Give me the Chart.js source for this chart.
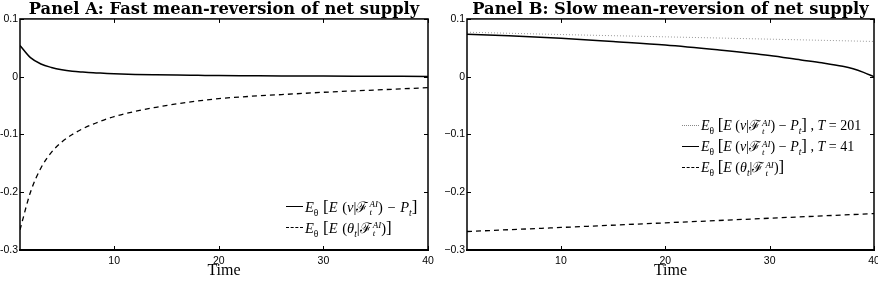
<!DOCTYPE html>
<html><head><meta charset="utf-8">
<script src="https://cdn.jsdelivr.net/npm/chart.js@4/dist/chart.umd.min.js"></script>
<style>
html,body{margin:0;padding:0;background:#fff;}
#wrap{position:relative;width:878px;height:282px;overflow:hidden;background:#fff;}
.pane{position:absolute;top:0;height:282px;}
#pa{left:0;width:440px;}
#pb{left:440px;width:438px;}
.legend{position:absolute;font-family:"Liberation Serif","DejaVu Serif",serif;font-size:14.5px;word-spacing:1px;color:#000;}
.row{display:flex;align-items:center;white-space:nowrap;height:21px;}
.sw{width:17px;height:0;margin-right:2px;}
.solid{border-top:1.5px solid #000;}
.dash{border-top:1.3px dashed #000;}
.dot{border-top:1px dotted #888;}
.ss{display:inline-flex;flex-direction:column;font-size:9px;line-height:8px;vertical-align:middle;font-style:italic;margin-left:1px;}
sub{font-size:9.5px;}
.br{font-size:17px;}
</style>
</head><body>
<div id="wrap">
  <div class="pane" id="pa"><canvas id="ca" width="440" height="282"></canvas></div>
  <div class="pane" id="pb"><canvas id="cb" width="438" height="282"></canvas></div>
  <div class="legend" style="left:286px;top:196px;">
    <div class="row"><span class="sw solid"></span><span><i>E</i><sub>θ</sub> <span class="br">[</span><i>E</i> (<i>v</i>|ℱ<span class="ss"><span>AI</span><span>t</span></span>) − <i>P</i><sub><i>t</i></sub><span class="br">]</span></span></div>
    <div class="row"><span class="sw dash"></span><span><i>E</i><sub>θ</sub> <span class="br">[</span><i>E</i> (<i>θ<sub>t</sub></i>|ℱ<span class="ss"><span>AI</span><span>t</span></span>)<span class="br">]</span></span></div>
  </div>
  <div class="legend" style="left:682px;top:115px;font-size:14px;word-spacing:0;">
    <div class="row"><span class="sw dot"></span><span><i>E</i><sub>θ</sub> <span class="br">[</span><i>E</i> (<i>v</i>|ℱ<span class="ss"><span>AI</span><span>t</span></span>) − <i>P</i><sub><i>t</i></sub><span class="br">]</span> , <i>T</i> = 201</span></div>
    <div class="row"><span class="sw solid"></span><span><i>E</i><sub>θ</sub> <span class="br">[</span><i>E</i> (<i>v</i>|ℱ<span class="ss"><span>AI</span><span>t</span></span>) − <i>P</i><sub><i>t</i></sub><span class="br">]</span> , <i>T</i> = 41</span></div>
    <div class="row"><span class="sw dash"></span><span><i>E</i><sub>θ</sub> <span class="br">[</span><i>E</i> (<i>θ<sub>t</sub></i>|ℱ<span class="ss"><span>AI</span><span>t</span></span>)<span class="br">]</span></span></div>
  </div>
</div>
<script>
// ---- Data ----
const titleA = 'Panel A: Fast mean-reversion of net supply';
const titleB = 'Panel B: Slow mean-reversion of net supply';
const xTitle = 'Time';
const xTicks = [10, 20, 30, 40];
const yTicks = [0.1, 0, -0.1, -0.2, -0.3];

// Panel A
const timeA = [1,2,3,4,5,6,7,8,9,10,12,14,16,18,20,23,26,30,35,40];
const aPriceGap = [0.054,0.033,0.022,0.016,0.012,0.0095,0.008,0.0068,0.006,0.0052,0.004,0.0033,0.0028,0.0024,0.002,0.0017,0.0014,0.0011,0.0008,0.0005];
const aTheta = [-0.265,-0.2,-0.158,-0.131,-0.113,-0.1,-0.09,-0.082,-0.075,-0.069,-0.06,-0.053,-0.047,-0.042,-0.038,-0.034,-0.031,-0.027,-0.023,-0.019];

// Panel B
const timeB201 = [1,10,20,30,40];
const bPriceGap201 = [0.077,0.073,0.069,0.065,0.061];
const timeB41 = [1,5,10,15,20,25,30,33,35,37,38,39,40];
const bPriceGap41 = [0.0735,0.071,0.0667,0.061,0.055,0.0465,0.0367,0.029,0.024,0.018,0.0137,0.0075,0.0];
const timeBTheta = [1,10,20,30,40];
const bTheta = [-0.268,-0.261,-0.253,-0.245,-0.237];

const pts = (xs, ys) => xs.map((x, i) => ({x, y: ys[i]}));

const framePlugin = {
  id: 'frame',
  afterDraw(chart) {
    const {ctx, chartArea: a, scales} = chart;
    ctx.save();
    ctx.strokeStyle = '#000';
    ctx.lineWidth = 1;
    const tl = 4;
    scales.x.ticks.forEach(t => {
      const px = Math.round(scales.x.getPixelForValue(t.value)) + 0.5;
      ctx.beginPath();
      ctx.moveTo(px, a.bottom); ctx.lineTo(px, a.bottom - tl);
      ctx.moveTo(px, a.top); ctx.lineTo(px, a.top + tl);
      ctx.stroke();
    });
    scales.y.ticks.forEach(t => {
      const py = Math.round(scales.y.getPixelForValue(t.value)) + 0.5;
      ctx.beginPath();
      ctx.moveTo(a.left, py); ctx.lineTo(a.left + tl, py);
      ctx.moveTo(a.right, py); ctx.lineTo(a.right - tl, py);
      ctx.stroke();
    });
    ctx.lineWidth = 1.5;
    ctx.strokeRect(a.left, a.top, a.right - a.left, a.bottom - a.top);
    ctx.lineWidth = 2.2;
    ctx.beginPath(); ctx.moveTo(a.left - 1, a.bottom); ctx.lineTo(a.right + 1, a.bottom); ctx.stroke();
    ctx.restore();
  }
};

function makeChart(id, title, datasets, yWidth, padRight, unicodeMinus) {
  return new Chart(document.getElementById(id), {
    type: 'line',
    data: {datasets},
    options: {
      responsive: false,
      animation: false,
      events: [],
      layout: {padding: {left: 0, right: padRight, top: 0, bottom: 0}},
      plugins: {
        legend: {display: false},
        tooltip: {enabled: false},
        title: {
          display: true, text: title, fullSize: false, color: '#000',
          font: {family: 'DejaVu Serif', weight: 'bold', size: 16.3, lineHeight: 1.1},
          padding: {top: 1, bottom: 0}
        }
      },
      elements: {point: {radius: 0}, line: {tension: 0.35, cubicInterpolationMode: 'monotone'}},
      scales: {
        x: {
          type: 'linear', min: 1, max: 40,
          grid: {display: false, drawTicks: false},
          border: {display: false},
          afterBuildTicks: s => { s.ticks = xTicks.map(v => ({value: v})); },
          afterFit: s => { s.height = 32; s.paddingLeft = 0; s.paddingRight = 0; },
          ticks: {color: '#000', font: {family: 'Liberation Sans', size: 10.5}, padding: 5, maxRotation: 0, autoSkip: false,
                  callback: v => String(v)},
          title: {display: true, text: xTitle, color: '#000',
                  font: {family: 'Liberation Serif', size: 16, lineHeight: 1.2}, padding: {top: 0, bottom: 2}}
        },
        y: {
          type: 'linear', min: -0.3, max: 0.1,
          grid: {display: false, drawTicks: false},
          border: {display: false},
          afterBuildTicks: s => { s.ticks = yTicks.map(v => ({value: v})); },
          afterFit: s => { s.width = yWidth; s.paddingTop = 0; s.paddingBottom = 0; },
          ticks: {color: '#000', font: {family: 'Liberation Sans', size: 10.5}, padding: 2,
                  callback: v => { let t = (Math.abs(v) < 1e-9) ? '0' : (Math.round(v * 10) / 10).toString();
                                   return unicodeMinus ? t.replace('-', '\u2212') : t; }}
        }
      }
    },
    plugins: [framePlugin]
  });
}

makeChart('ca', titleA, [
  {data: pts(timeA, aPriceGap), borderColor: '#000', borderWidth: 1.5, fill: false},
  {data: pts(timeA, aTheta), borderColor: '#000', borderWidth: 1.3, borderDash: [5, 4], fill: false}
], 20, 12, false);

makeChart('cb', titleB, [
  {data: pts(timeB201, bPriceGap201), borderColor: '#999', borderWidth: 1, borderDash: [1, 2], fill: false},
  {data: pts(timeB41, bPriceGap41), borderColor: '#000', borderWidth: 1.5, fill: false},
  {data: pts(timeBTheta, bTheta), borderColor: '#000', borderWidth: 1.3, borderDash: [5, 4], fill: false}
], 27, 4, true);
</script>
</body></html>
